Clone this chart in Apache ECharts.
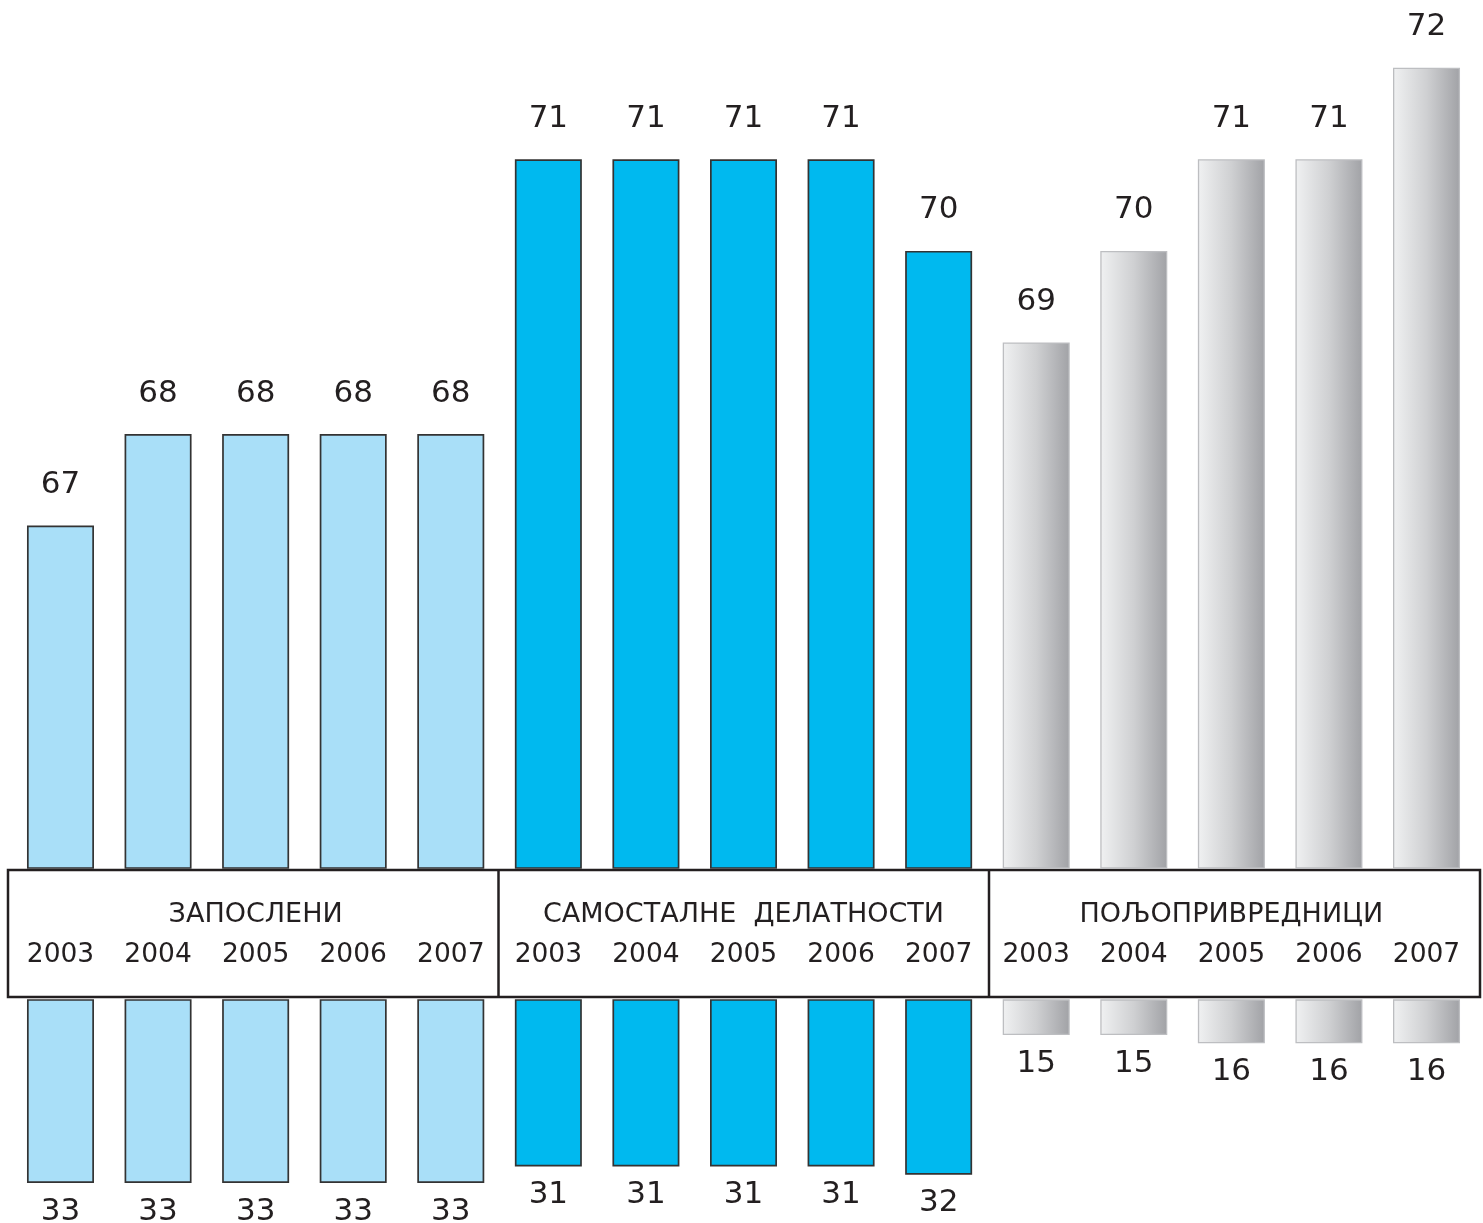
<!DOCTYPE html>
<html>
<head>
<meta charset="utf-8">
<script src="https://cdn.jsdelivr.net/npm/echarts@6/dist/echarts.min.js"></script>
<style>html,body{margin:0;padding:0;background:#fff}#c{width:1483px;height:1223px}</style>
</head>
<body>
<div id="c"></div>
<script>
const groups = ['ЗАПОСЛЕНИ', 'САМОСТАЛНЕ  ДЕЛАТНОСТИ', 'ПОЉОПРИВРЕДНИЦИ'];
const years = ['2003', '2004', '2005', '2006', '2007'];
const upperEmployed = [67, 68, 68, 68, 68];
const upperSelf = [71, 71, 71, 71, 70];
const upperFarmers = [69, 70, 71, 71, 72];
const lowerEmployed = [33, 33, 33, 33, 33];
const lowerSelf = [31, 31, 31, 31, 32];
const lowerFarmers = [15, 15, 16, 16, 16];

const grayGrad = {type:'linear', x:0, y:0, x2:1, y2:0, colorStops:[{offset:0,color:'#f0f1f2'},{offset:0.5,color:'#cfd0d2'},{offset:1,color:'#a1a2a6'}]};
const styles = [
  {color:'#a9dff8', borderColor:'#333333', borderWidth:1.7},
  {color:'#00b9ef', borderColor:'#333333', borderWidth:1.7},
  {color:grayGrad, borderColor:'#bdbec1', borderWidth:1.3}
];
const cats = [];
groups.forEach(g => years.forEach(y => cats.push(g + '|' + y)));
function build(arrs){
  const out = [];
  arrs.forEach((a, gi) => a.forEach(v => out.push({value:v, itemStyle:styles[gi]})));
  return out;
}
const upperData = build([upperEmployed, upperSelf, upperFarmers]);
const lowerData = build([lowerEmployed, lowerSelf, lowerFarmers]);
const font = 'DejaVu Sans';
const txt = '#231f20';

const chart = echarts.init(document.getElementById('c'));
chart.setOption({
  animation:false,
  grid:[
    {left:11.7, right:7.7, top:0, height:868},
    {left:11.7, right:7.7, top:1000, height:223}
  ],
  xAxis:[
    {type:'category', gridIndex:0, data:cats, axisLine:{show:false}, axisTick:{show:false},
     axisLabel:{formatter:v=>v.split('|')[1], margin:87, verticalAlign:'middle', fontFamily:font, fontSize:26.5, color:txt, interval:0}},
    {type:'category', gridIndex:0, position:'bottom', data:groups, axisLine:{show:false}, axisTick:{show:false},
     axisLabel:{margin:47, verticalAlign:'middle', fontFamily:font, fontSize:27, color:txt, interval:0}},
    {type:'category', gridIndex:1, data:cats, axisLine:{show:false}, axisTick:{show:false}, axisLabel:{show:false}}
  ],
  yAxis:[
    {type:'value', gridIndex:0, min:63.26, max:72.74, show:false, splitLine:{show:false}},
    {type:'value', gridIndex:1, min:10.74, max:37.87, inverse:true, show:false, splitLine:{show:false}}
  ],
  series:[
    {type:'bar', xAxisIndex:0, yAxisIndex:0, data:upperData, barWidth:67,
     label:{show:true, position:'top', distance:25, fontFamily:font, fontSize:31, color:txt}},
    {type:'bar', xAxisIndex:2, yAxisIndex:1, data:lowerData, barWidth:67,
     label:{show:true, position:'bottom', distance:13, fontFamily:font, fontSize:31, color:txt}}
  ],
  graphic:[
    {type:'rect', shape:{x:8, y:870, width:1472, height:127}, style:{fill:'#fff', stroke:txt, lineWidth:2.5}, z:-1},
    {type:'line', shape:{x1:498.5, y1:870, x2:498.5, y2:997}, style:{stroke:txt, lineWidth:2.5}},
    {type:'line', shape:{x1:989, y1:870, x2:989, y2:997}, style:{stroke:txt, lineWidth:2.5}}
  ]
});
</script>
</body>
</html>
